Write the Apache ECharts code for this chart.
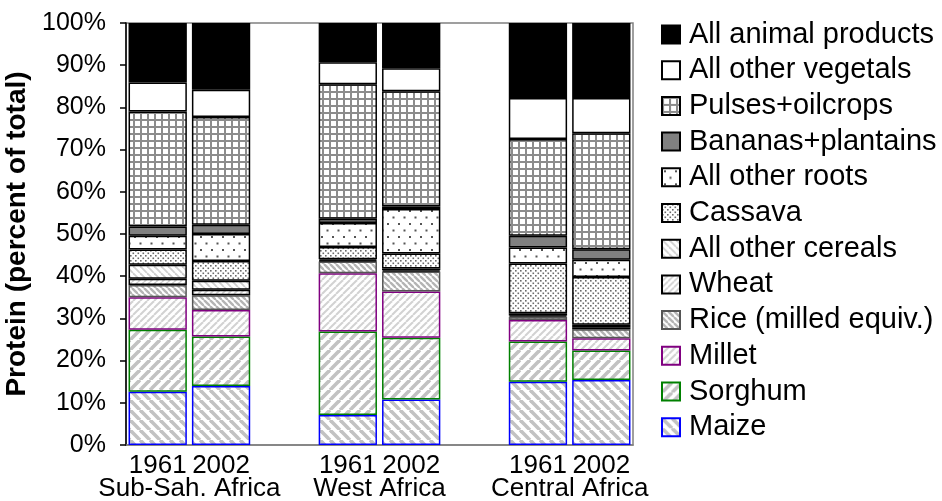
<!DOCTYPE html>
<html>
<head>
<meta charset="utf-8">
<script src="https://cdn.jsdelivr.net/npm/echarts@6/dist/echarts.min.js"></script>
<style>
  html, body { margin: 0; padding: 0; background: #ffffff; }
  #chart { width: 942px; height: 501px; }
</style>
</head>
<body>
<div id="chart"></div>
<script>
// Protein sources, share of total protein supply (%)
const regions = ['Sub-Sah. Africa', 'West Africa', 'Central Africa'];
const years = ['1961', '2002'];

// values per bar: [SSA 1961, SSA 2002, WA 1961, WA 2002, CA 1961, CA 2002]
const maize         = [12.6, 14.0,  7.1, 10.8, 15.0, 15.4];
const sorghum       = [14.7, 11.7, 19.8, 14.6,  9.5,  7.0];
const millet        = [ 7.7,  6.3, 13.8, 11.0,  5.1,  2.9];
const rice          = [ 2.9,  3.5,  2.8,  4.7,  0.8,  2.1];
const wheat         = [ 1.5,  1.3,  0.2,  0.3,  0.3,  0.5];
const otherCereals  = [ 3.3,  2.1,  0.3,  0.4,  0.5,  0.6];
const cassava       = [ 3.6,  4.7,  2.9,  3.6, 11.8, 11.3];
const otherRoots    = [ 3.3,  6.4,  5.7, 10.5,  3.8,  4.1];
const bananas       = [ 2.2,  2.2,  1.0,  0.6,  2.8,  2.5];
const pulses        = [27.2, 25.5, 31.9, 27.3, 22.9, 27.5];
const otherVegetals = [ 6.9,  6.5,  5.2,  5.5,  9.7,  8.3];
const animal        = [14.1, 15.8,  9.3, 10.7, 17.8, 17.8];

const yMax = 100;
const yStep = 10;

const FONT = 'Liberation Sans, Arial, sans-serif';

// ---- fill patterns drawn on small canvases ----
function tile(w, h) {
  const c = document.createElement('canvas');
  c.width = w; c.height = h;
  const g = c.getContext('2d');
  g.fillStyle = '#ffffff';
  g.fillRect(0, 0, w, h);
  return [c, g];
}
function stripes(dir, period, lw, color) {
  const [c, g] = tile(period, period);
  g.strokeStyle = color;
  g.lineWidth = lw;
  for (let k = -1; k <= 1; k++) {
    g.beginPath();
    if (dir === 'down') {
      g.moveTo(k * period, 0); g.lineTo(k * period + period, period);
    } else {
      g.moveTo(k * period, period); g.lineTo(k * period + period, 0);
    }
    g.stroke();
  }
  return { image: c, repeat: 'repeat' };
}
function dots(w, h, pts, size, color) {
  const [c, g] = tile(w, h);
  g.fillStyle = color;
  pts.forEach(p => g.fillRect(p[0], p[1], size, size));
  return { image: c, repeat: 'repeat' };
}
function gridFill(cell, lw, color) {
  const [c, g] = tile(cell, cell);
  g.fillStyle = color;
  g.fillRect(0, 0, cell, lw);
  g.fillRect(0, 0, lw, cell);
  return { image: c, repeat: 'repeat' };
}

// ---- category slots: two years per region, a blank slot between regions ----
const slots = [];
const slotOfBar = [];
regions.forEach((r, ri) => {
  years.forEach(y => { slotOfBar.push(slots.length); slots.push(y); });
  if (ri < regions.length - 1) slots.push('');
});
function toSlots(values) {
  const out = slots.map(() => '-');
  values.forEach((v, i) => { out[slotOfBar[i]] = v; });
  return out;
}

const seriesDefs = [
  { name: 'Maize', data: maize, color: stripes('down', 10, 3.6, '#c2c2c2'), border: '#0000ff' },
  { name: 'Sorghum', data: sorghum, color: stripes('up', 10, 3.6, '#c2c2c2'), border: '#008000' },
  { name: 'Millet', data: millet, color: stripes('up', 7, 2, '#d2d2d2'), border: '#800080' },
  { name: 'Rice (milled equiv.)', data: rice, color: stripes('down', 6, 2.4, '#b4b4b4'), border: '#555555' },
  { name: 'Wheat', data: wheat, color: stripes('up', 6, 1.6, '#cfcfcf'), border: '#000000' },
  { name: 'All other cereals', data: otherCereals, color: stripes('down', 7, 1.8, '#cfcfcf'), border: '#000000' },
  { name: 'Cassava', data: cassava, color: dots(5, 5, [[0, 0], [2.5, 2.5]], 1.6, '#6a6a6a'), border: '#000000' },
  { name: 'All other roots', data: otherRoots, color: dots(11, 13, [[2, 2], [7.5, 8.5]], 2, '#555555'), border: '#000000' },
  { name: 'Bananas+plantains', data: bananas, color: '#808080', border: '#000000' },
  { name: 'Pulses+oilcrops', data: pulses, color: gridFill(7, 2, '#8c8c8c'), border: '#000000' },
  { name: 'All other vegetals', data: otherVegetals, color: '#ffffff', border: '#000000' },
  { name: 'All animal products', data: animal, color: '#000000', border: '#000000' }
];

const series = seriesDefs.map(d => ({
  name: d.name,
  type: 'bar',
  stack: 'protein',
  barCategoryGap: '8%',
  data: toSlots(d.data),
  itemStyle: { color: d.color, borderColor: d.border, borderWidth: 1.5 },
  emphasis: { disabled: true }
}));

const chart = echarts.init(document.getElementById('chart'), null, { renderer: 'canvas' });

chart.setOption({
  animation: false,
  backgroundColor: '#ffffff',
  grid: {
    left: 126, right: 309, top: 23, bottom: 56,
    containLabel: false,
    outerBoundsMode: 'none',
    show: true, borderColor: '#808080', borderWidth: 1.5, backgroundColor: 'transparent'
  },
  legend: {
    orient: 'vertical',
    left: 661,
    top: 20,
    padding: 0,
    itemWidth: 18,
    itemHeight: 18,
    itemGap: 6.7,
    icon: 'rect',
    selectedMode: false,
    data: seriesDefs.map(d => d.name).reverse(),
    textStyle: { fontFamily: FONT, fontSize: 29, color: '#000000', padding: [0, 0, 0, 4] }
  },
  xAxis: {
    type: 'category',
    data: slots,
    axisTick: { show: false },
    axisLine: { lineStyle: { color: '#808080', width: 1.5 } },
    axisLabel: { interval: 0, fontFamily: FONT, fontSize: 26, color: '#000000', margin: 8 }
  },
  yAxis: {
    type: 'value',
    min: 0,
    max: yMax,
    interval: yStep,
    name: 'Protein (percent of total)',
    nameLocation: 'middle',
    nameRotate: 90,
    nameGap: 81,
    nameTextStyle: { fontFamily: FONT, fontSize: 28, fontWeight: 'bold', color: '#000000' },
    axisLine: { show: true, lineStyle: { color: '#000000', width: 1.5 } },
    axisTick: { show: true, inside: false, length: 6, lineStyle: { color: '#000000', width: 1.5 } },
    axisLabel: { formatter: '{value}%', fontFamily: FONT, fontSize: 25, color: '#000000', margin: 20 },
    splitLine: { show: false }
  },
  series: series
});

// region names centred under each pair of bars
const graphics = regions.map((r, ri) => {
  const a = chart.convertToPixel({ xAxisIndex: 0 }, slotOfBar[ri * 2]);
  const b = chart.convertToPixel({ xAxisIndex: 0 }, slotOfBar[ri * 2 + 1]);
  return {
    type: 'text',
    x: (a + b) / 2,
    y: 489,
    style: {
      text: r,
      fontFamily: FONT,
      fontSize: 26,
      fill: '#000000',
      align: 'center',
      verticalAlign: 'middle'
    }
  };
});
chart.setOption({ graphic: graphics });
</script>
</body>
</html>
